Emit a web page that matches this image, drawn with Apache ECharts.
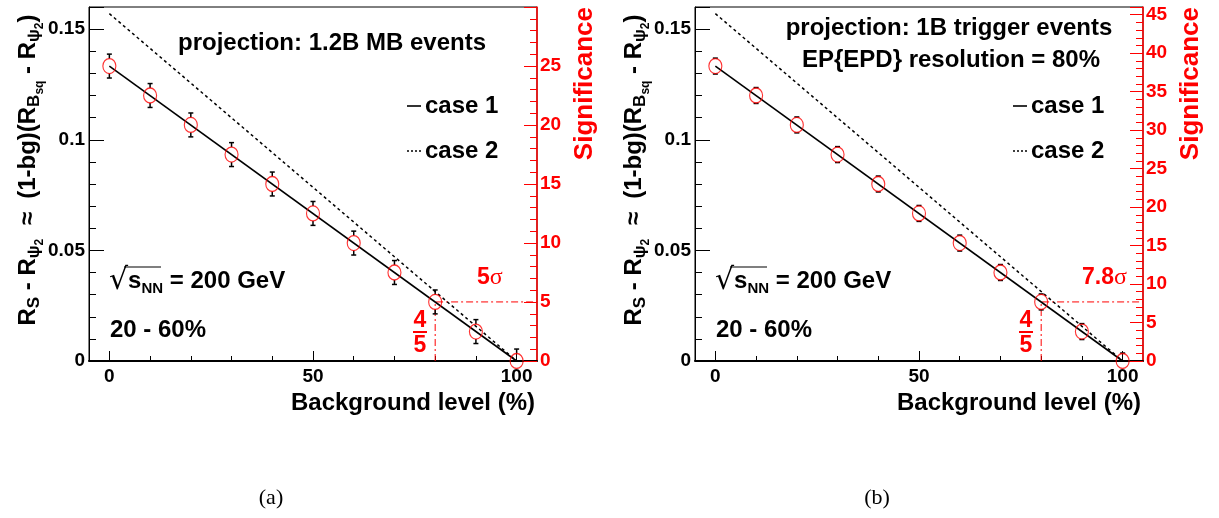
<!DOCTYPE html>
<html>
<head>
<meta charset="utf-8">
<script src="https://cdn.jsdelivr.net/npm/echarts@6/dist/echarts.min.js"></script>
<style>
  html, body { margin: 0; padding: 0; background: #fff; }
  #main { width: 1219px; height: 518px; }
</style>
</head>
<body>
<div id="main"></div>
<script>
var myChart = echarts.init(document.getElementById('main'));

// background level (%) of each point
var bgLevel = [0, 10, 20, 30, 40, 50, 60, 70, 80, 90, 100];
// panel (a): 1.2B MB events
var valuesA = [0.1333, 0.1200, 0.1067, 0.0933, 0.0800, 0.0667, 0.0533, 0.0400, 0.0267, 0.0133, 0.0000];
var errorsA = [0.0054, 0.0054, 0.0054, 0.0054, 0.0054, 0.0054, 0.0054, 0.0054, 0.0054, 0.0054, 0.0054];
// panel (b): 1B trigger events
var valuesB = [0.1333, 0.1200, 0.1067, 0.0933, 0.0800, 0.0667, 0.0533, 0.0400, 0.0267, 0.0133, 0.0000];
var errorsB = [0.0036, 0.0036, 0.0036, 0.0036, 0.0036, 0.0036, 0.0036, 0.0036, 0.0036, 0.0036, 0.0036];
// lines: case 1 (solid), case 2 (dotted)
var case1Line = [[0, 0.1333], [100, 0]];
var case2Line = [[0, 0.157], [100, 0]];
// 4/5 marker
var markBg = 80;
var markValue = 0.0267;
// axes
var xRange = [-5, 105];
var xMajorTicks = [0, 50, 100];
var xMinorTicks = [10, 20, 30, 40, 60, 70, 80, 90];
var yRange = [0, 0.16];
var sigMaxA = 30;
var sigMaxB = 46;

var FONT = 'Liberation Sans, Arial, Helvetica, sans-serif';
var RED = '#ff0000';

function pts(xs, ys, es) {
    return xs.map(function (x, i) { return es ? [x, ys[i], es[i]] : [x, ys[i]]; });
}

function errorBar(params, api) {
    var x = api.value(0), y = api.value(1), e = api.value(2);
    var c = api.coord([x, y]);
    var hi = api.coord([x, y + e]);
    var lo = api.coord([x, Math.max(0, y - e)]);
    var r = 7.5, cap = 2.5;
    var st = { stroke: '#000', lineWidth: 1.5 };
    var ch = [];
    if (c[1] - r > hi[1]) {
        ch.push({ type: 'line', shape: { x1: c[0], y1: hi[1], x2: c[0], y2: c[1] - r }, style: st });
        ch.push({ type: 'line', shape: { x1: c[0] - cap, y1: hi[1], x2: c[0] + cap, y2: hi[1] }, style: st });
    }
    if (lo[1] > c[1] + r) {
        ch.push({ type: 'line', shape: { x1: c[0], y1: c[1] + r, x2: c[0], y2: lo[1] }, style: st });
        ch.push({ type: 'line', shape: { x1: c[0] - cap, y1: lo[1], x2: c[0] + cap, y2: lo[1] }, style: st });
    }
    return { type: 'group', children: ch };
}

function panelSeries(gi, values, errors) {
    var xi = gi * 2, yi = gi * 2;
    return [{
        type: 'line', xAxisIndex: xi, yAxisIndex: yi, data: case2Line, showSymbol: false, silent: true,
        lineStyle: { color: '#000', width: 1.5, type: [3, 3] }, z: 2
    }, {
        type: 'line', xAxisIndex: xi, yAxisIndex: yi, data: case1Line, showSymbol: false, silent: true,
        lineStyle: { color: '#000', width: 1.6 }, z: 2
    }, {
        type: 'line', xAxisIndex: xi, yAxisIndex: yi, silent: true, showSymbol: false,
        data: [[markBg, 0], [markBg, markValue], [xRange[1], markValue]],
        lineStyle: { color: RED, width: 1, type: [7, 3, 2, 3] }, z: 1
    }, {
        type: 'custom', xAxisIndex: xi, yAxisIndex: yi, renderItem: errorBar,
        data: pts(bgLevel, values, errors), clip: false, z: 3
    }, {
        type: 'scatter', xAxisIndex: xi, yAxisIndex: yi, data: pts(bgLevel, values),
        symbol: 'circle', symbolSize: [13, 15], clip: false, silent: true,
        itemStyle: { color: 'transparent', borderColor: RED, borderWidth: 1.2 }, z: 4
    }];
}

function xAxes(gi) {
    return [{
        gridIndex: gi, type: 'value', min: xRange[0], max: xRange[1], position: 'bottom',
        axisLine: { show: true, onZero: false, lineStyle: { color: '#000', width: 2 } },
        axisTick: { show: true, inside: true, length: 10, customValues: xMajorTicks, lineStyle: { color: '#000' } },
        axisLabel: { customValues: xMajorTicks, margin: 6, color: '#000', fontSize: 19, fontWeight: 'bold', fontFamily: FONT },
        splitLine: { show: false }
    }, {
        gridIndex: gi, type: 'value', min: xRange[0], max: xRange[1], position: 'bottom',
        axisLine: { show: false, onZero: false },
        axisTick: { show: true, inside: true, length: 5, customValues: xMinorTicks, lineStyle: { color: '#000' } },
        axisLabel: { show: false },
        splitLine: { show: false }
    }];
}

function yAxes(gi, sigMax) {
    return [{
        gridIndex: gi, type: 'value', min: yRange[0], max: yRange[1], interval: 0.05, position: 'left',
        axisLine: { show: true, onZero: false, lineStyle: { color: '#000', width: 1 } },
        axisTick: { show: true, inside: true, length: 15, lineStyle: { color: '#000' } },
        minorTick: { show: true, splitNumber: 5, length: 7, lineStyle: { color: '#000' } },
        axisLabel: { margin: 4, showMaxLabel: false, color: '#000', fontSize: 19, fontWeight: 'bold', fontFamily: FONT },
        splitLine: { show: false }
    }, {
        gridIndex: gi, type: 'value', min: 0, max: sigMax, interval: 5, position: 'right',
        axisLine: { show: true, onZero: false, lineStyle: { color: RED, width: 1.5 } },
        axisTick: { show: true, inside: true, length: 13, lineStyle: { color: RED } },
        minorTick: { show: true, splitNumber: 5, length: 7, lineStyle: { color: RED } },
        axisLabel: { margin: 3, showMaxLabel: false, color: RED, fontSize: 19, fontWeight: 'bold', fontFamily: FONT },
        splitLine: { show: false }
    }];
}

function txt(x, y, text, opt) {
    opt = opt || {};
    return {
        type: 'text', x: x, y: y, rotation: opt.rotation || 0, z: 20,
        style: {
            text: text, fill: opt.color || '#000', fontSize: opt.size || 24,
            fontWeight: opt.weight || 'bold', fontFamily: opt.family || FONT,
            align: opt.align || 'left', verticalAlign: opt.valign || 'middle',
            rich: opt.rich
        }
    };
}

var yTitleRich = {
    m: { fontSize: 24, fontWeight: 'bold', fontFamily: FONT, lineHeight: 36, verticalAlign: 'middle' },
    sub: { fontSize: 17, fontWeight: 'bold', fontFamily: FONT, verticalAlign: 'bottom', padding: [0, 0, 3, 0] },
    ss: { fontSize: 12, fontWeight: 'bold', fontFamily: FONT, verticalAlign: 'bottom', padding: [0, 0, 0, 0] }
};
var yTitle = '{m|R}{sub|S}{m| - R}{sub|ψ}{ss|2}{m|  ≈  (1-bg)(R}{sub|B}{ss|sq}{m| - R}{sub|ψ}{ss|2}{m|)}';

var sqrtRich = {
    r: { fontSize: 30, fontWeight: 'normal', fontFamily: 'DejaVu Sans', lineHeight: 34, verticalAlign: 'middle' },
    m: { fontSize: 24, fontWeight: 'bold', fontFamily: FONT, lineHeight: 34, verticalAlign: 'middle' },
    sub: { fontSize: 15, fontWeight: 'bold', fontFamily: FONT, verticalAlign: 'bottom', padding: [0, 0, 2, 0] }
};

var sigRich = {
    b: { fontSize: 23, fontWeight: 'bold', fontFamily: FONT, fill: RED },
    g: { fontSize: 24, fontWeight: 'normal', fontFamily: 'Liberation Serif, serif', fill: RED }
};

function panelGraphics(dx, titleLines, sigLabel, sigX, legendX) {
    var g = [];
    titleLines.forEach(function (t) { g.push(txt(t[0], t[1], t[2], { align: 'center' })); });
    // legend
    g.push({ type: 'line', shape: { x1: legendX, y1: 106, x2: legendX + 14, y2: 106 }, style: { stroke: '#000', lineWidth: 1.6 }, z: 20 });
    g.push(txt(legendX + 18, 106, 'case 1'));
    g.push({ type: 'line', shape: { x1: legendX, y1: 151, x2: legendX + 14, y2: 151 }, style: { stroke: '#000', lineWidth: 1.5, lineDash: [2, 2] }, z: 20 });
    g.push(txt(legendX + 18, 151, 'case 2'));
    // sqrt(s_NN)
    g.push(txt(109 + dx, 281, '{r|√}{m|s}{sub|NN}{m| = 200 GeV}', { rich: sqrtRich }));
    g.push({ type: 'line', shape: { x1: 124 + dx, y1: 267, x2: 161 + dx, y2: 267 }, style: { stroke: '#000', lineWidth: 1.2 }, z: 20 });
    g.push(txt(110 + dx, 330, '20 - 60%'));
    // 4/5 and sigma
    g.push(txt(420 + dx, 321, '4', { color: RED, size: 23, align: 'center' }));
    g.push({ type: 'rect', shape: { x: 413 + dx, y: 331, width: 14, height: 2 }, style: { fill: RED }, z: 20 });
    g.push(txt(420 + dx, 346, '5', { color: RED, size: 23, align: 'center' }));
    g.push(txt(sigX, 278, sigLabel, { rich: sigRich }));
    // axis titles
    g.push(txt(28 + dx, 170, yTitle, { rich: yTitleRich, rotation: Math.PI / 2, align: 'center' }));
    g.push(txt(585 + dx, 7, 'Significance', { color: RED, size: 26, rotation: Math.PI / 2, align: 'right' }));
    g.push(txt(535 + dx, 403, 'Background level (%)', { align: 'right' }));
    return g;
}

var graphics = []
    .concat(panelGraphics(0, [[332, 43, 'projection: 1.2B MB events']], '{b|5}{g|σ}', 477, 407))
    .concat(panelGraphics(606, [[949, 28, 'projection: 1B trigger events'], [951, 60, 'EP{EPD} resolution = 80%']], '{b|7.8}{g|σ}', 1082, 1013));
graphics.push(txt(271, 498, '(a)', { family: 'Liberation Serif, Times New Roman, serif', weight: 'normal', size: 22, align: 'center' }));
graphics.push(txt(877, 498, '(b)', { family: 'Liberation Serif, Times New Roman, serif', weight: 'normal', size: 22, align: 'center' }));

var option = {
    backgroundColor: '#fff',
    animation: false,
    grid: [
        { left: 89, top: 7, width: 448, height: 354, show: true, borderColor: '#000', borderWidth: 1 },
        { left: 695, top: 7, width: 448, height: 354, show: true, borderColor: '#000', borderWidth: 1 }
    ],
    xAxis: xAxes(0).concat(xAxes(1)),
    yAxis: yAxes(0, sigMaxA).concat(yAxes(1, sigMaxB)),
    series: panelSeries(0, valuesA, errorsA).concat(panelSeries(1, valuesB, errorsB)),
    graphic: graphics
};

myChart.setOption(option);
</script>
</body>
</html>
